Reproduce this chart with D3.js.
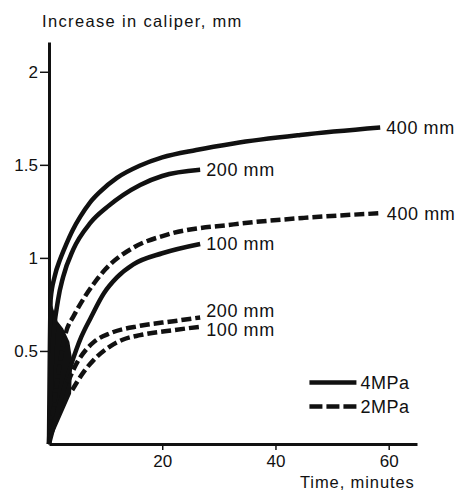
<!DOCTYPE html>
<html>
<head>
<meta charset="utf-8">
<script src="https://cdn.jsdelivr.net/npm/d3@7"></script>
<style>
  body { margin: 0; background: #fff; }
  text { font-family: "Liberation Sans", Arial, sans-serif; fill: #111; }
</style>
</head>
<body>
<div id="graf"></div>
<script>
// I. Datos (tiempo en minutos, aumento en mm)
const c4MPa400 = [[0,0],[0.3,0.78],[1,0.9],[2,0.995],[3,1.07],[4.2,1.15],[5.5,1.22],[7.3,1.3],[9,1.355],[12,1.43],[16,1.495],[20,1.54],[26,1.58],[32.6,1.615],[44.4,1.66],[58.5,1.70]]
const c4MPa200 = [[0,0],[0.6,0.5],[1.6,0.774],[2.5,0.898],[4.25,1.043],[7.3,1.188],[10.3,1.274],[16.1,1.392],[20,1.44],[26.7,1.473]]
const c2MPa400 = [[0,0],[1.5,0.35],[2.9,0.59],[4.4,0.69],[6.2,0.785],[8,0.865],[10,0.94],[14.9,1.055],[20.9,1.125],[32.6,1.18],[45,1.215],[58.6,1.24]]
const c4MPa100 = [[0,0],[4.8,0.505],[5.7,0.575],[7.4,0.68],[9.7,0.81],[12,0.895],[14.9,0.965],[20,1.025],[26.7,1.075]]
const c2MPa200 = [[3.3,0.33],[5,0.44],[6.5,0.505],[8,0.55],[10.8,0.595],[16.1,0.635],[22,0.66],[26.7,0.68]]
const c2MPa100 = [[4.1,0.29],[6.2,0.39],[8,0.455],[10.8,0.525],[13,0.56],[16.1,0.585],[22,0.612],[26.7,0.63]]
// zona negra junto al origen
const cuna = [[0,0],[3.9,0.27],[4.1,0.45],[3.6,0.55],[2.5,0.62],[1.5,0.66],[0.6,0.74],[0,0.78]]

const curveLabels = ['400 mm', '200 mm', '400 mm', '100 mm', '200 mm', '100 mm']
const presiones = ['4MPa', '2MPa']
const xTicks = [20, 40, 60]
const yTicks = [0.5, 1, 1.5, 2]

const series = [
  { pts: c4MPa400, p: '4MPa', label: curveLabels[0] },
  { pts: c4MPa200, p: '4MPa', label: curveLabels[1] },
  { pts: c2MPa400, p: '2MPa', label: curveLabels[2] },
  { pts: c4MPa100, p: '4MPa', label: curveLabels[3] },
  { pts: c2MPa200, p: '2MPa', label: curveLabels[4] },
  { pts: c2MPa100, p: '2MPa', label: curveLabels[5] }
]
// pequeños ajustes verticales de las etiquetas
const nudge = [0, 0, 0, 0, -7, 3]

// II. Configuración
const ancho_total = 463, alto_total = 491
const margins = { top: 42, left: 49, right: 46, bottom: 47 }
const ancho = ancho_total - margins.left - margins.right
const alto = alto_total - margins.top - margins.bottom

const svg = d3.select('#graf').append('svg')
  .attr('width', ancho_total)
  .attr('height', alto_total)

const g = svg.append('g')
  .attr('transform', `translate(${margins.left}, ${margins.top})`)

const x = d3.scaleLinear().domain([0, 65]).range([0, ancho])
const y = d3.scaleLinear().domain([0, 2.16]).range([alto, 0])

const dash = { '4MPa': null, '2MPa': '10,4' }

// III. Ejes
const xAxisGroup = g.append('g')
  .attr('transform', `translate(0, ${alto})`)
  .call(d3.axisBottom(x).tickValues(xTicks).tickSizeInner(6).tickSizeOuter(0).tickPadding(5))
const yAxisGroup = g.append('g')
  .call(d3.axisLeft(y).tickValues(yTicks).tickSizeInner(9).tickSizeOuter(0).tickPadding(2)
    .tickFormat(d3.format('')))

g.selectAll('.domain').attr('stroke', '#111').attr('stroke-width', 3)
g.selectAll('.tick line').attr('stroke', '#111').attr('stroke-width', 1.5)
g.selectAll('.tick text').attr('font-size', 17).attr('fill', '#111')
  .style('font-family', '"Liberation Sans", Arial, sans-serif')

// IV. Curvas
const line = d3.line()
  .x(d => x(d[0]))
  .y(d => y(d[1]))
  .curve(d3.curveMonotoneX)

g.append('path')
  .datum(cuna)
  .attr('d', d3.line().x(d => x(d[0])).y(d => y(d[1])))
  .attr('fill', '#111')

g.selectAll('.curva')
  .data(series)
  .enter()
  .append('path')
    .attr('class', 'curva')
    .attr('d', d => line(d.pts))
    .attr('fill', 'none')
    .attr('stroke', '#111')
    .attr('stroke-width', 4.5)
    .attr('stroke-dasharray', d => dash[d.p])

g.selectAll('.etiqueta')
  .data(series)
  .enter()
  .append('text')
    .attr('class', 'etiqueta')
    .attr('x', d => x(d.pts[d.pts.length - 1][0]) + 6)
    .attr('y', (d, i) => y(d.pts[d.pts.length - 1][1]) + nudge[i])
    .attr('dy', '0.35em')
    .attr('font-size', 18)
    .attr('letter-spacing', 0.6)
    .text(d => d.label)

// V. Leyenda
const leyenda = g.selectAll('.ley')
  .data(presiones)
  .enter()
  .append('g')
    .attr('class', 'ley')
    .attr('transform', (d, i) => `translate(${x(46)}, ${y(0.33) + i * 24})`)

leyenda.append('line')
  .attr('x1', 0).attr('x2', 47)
  .attr('stroke', '#111')
  .attr('stroke-width', 4.5)
  .attr('stroke-dasharray', d => d === '2MPa' ? '13,4' : null)

leyenda.append('text')
  .attr('x', 51)
  .attr('dy', '0.35em')
  .attr('font-size', 18)
  .attr('letter-spacing', 0.5)
  .text(d => d)

// VI. Títulos
svg.append('text')
  .attr('x', 42).attr('y', 27)
  .attr('font-size', 16.5)
  .attr('letter-spacing', 1.35)
  .text('Increase in caliper, mm')

svg.append('text')
  .attr('x', 300).attr('y', 488)
  .attr('font-size', 16.5)
  .attr('letter-spacing', 0.9)
  .text('Time, minutes')
</script>
</body>
</html>
